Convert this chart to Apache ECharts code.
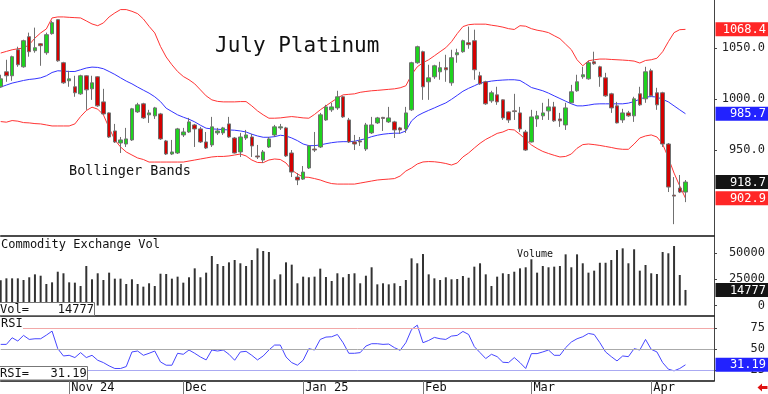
<!DOCTYPE html>
<html><head><meta charset="utf-8">
<script src="https://cdn.jsdelivr.net/npm/echarts@6/dist/echarts.min.js"></script>
<style>html,body{margin:0;padding:0;background:#fff;}#c{width:768px;height:394px;}</style>
</head><body><div id="c"></div>
<script>
const dates = [
'2024-10-16','2024-10-17','2024-10-18','2024-10-21','2024-10-22','2024-10-23','2024-10-24','2024-10-25','2024-10-28','2024-10-29','2024-10-30','2024-10-31',
'2024-11-01','2024-11-04','2024-11-05','2024-11-06','2024-11-07','2024-11-08','2024-11-11','2024-11-12','2024-11-13','2024-11-14','2024-11-15','2024-11-18','2024-11-19','2024-11-20','2024-11-21','2024-11-22','2024-11-25','2024-11-26','2024-11-27','2024-11-29',
'2024-12-02','2024-12-03','2024-12-04','2024-12-05','2024-12-06','2024-12-09','2024-12-10','2024-12-11','2024-12-12','2024-12-13','2024-12-16','2024-12-17','2024-12-18','2024-12-19','2024-12-20','2024-12-23','2024-12-24','2024-12-26','2024-12-27','2024-12-30','2024-12-31',
'2025-01-02','2025-01-03','2025-01-06','2025-01-07','2025-01-08','2025-01-10','2025-01-13','2025-01-14','2025-01-15','2025-01-16','2025-01-17','2025-01-20','2025-01-21','2025-01-22','2025-01-23','2025-01-24','2025-01-27','2025-01-28','2025-01-29','2025-01-30','2025-01-31',
'2025-02-03','2025-02-04','2025-02-05','2025-02-06','2025-02-07','2025-02-10','2025-02-11','2025-02-12','2025-02-13','2025-02-14','2025-02-18','2025-02-19','2025-02-20','2025-02-21','2025-02-24','2025-02-25','2025-02-26','2025-02-27','2025-02-28',
'2025-03-03','2025-03-04','2025-03-05','2025-03-06','2025-03-07','2025-03-10','2025-03-11','2025-03-12','2025-03-13','2025-03-14','2025-03-17','2025-03-18','2025-03-19','2025-03-20','2025-03-21','2025-03-24','2025-03-25','2025-03-26','2025-03-27','2025-03-28','2025-03-31',
'2025-04-01','2025-04-02','2025-04-03','2025-04-04','2025-04-07','2025-04-08','2025-04-09'];
const futureDates = ['2025-04-10','2025-04-11','2025-04-14','2025-04-15','2025-04-16'];

// [open, close, low, high]
const candles = [
[1012.1,1019.9,1011.1,1023.9],[1026.8,1022.9,1017.0,1038.6],[1022.9,1041.6,1018.0,1042.6],[1048.4,1033.7,1031.7,1051.4],[1031.7,1057.3,1030.8,1058.3],
[1061.2,1046.5,1041.6,1065.2],[1047.5,1050.4,1045.5,1070.1],[1054.3,1052.4,1032.7,1055.0],[1045.5,1063.2,1043.5,1065.2],[1064.2,1075.0,1063.2,1076.9],
[1077.9,1037.6,1036.6,1078.5],[1035.7,1016.0,1015.0,1036.6],[1018.0,1019.9,1012.1,1027.8],[1012.1,1006.2,1002.3,1022.9],[1005.2,1022.9,1004.2,1023.9],
[1022.9,1009.1,989.5,1023.5],[1010.1,1016.0,999.3,1022.9],[1021.9,993.4,992.4,1022.5],[997.3,985.5,984.6,1010.1],[986.5,962.9,961.9,987.0],
[968.8,958.0,957.0,975.7],[957.0,960.0,947.2,962.9],[956.0,961.0,953.1,971.8],[960.0,990.5,959.0,991.4],[987.5,994.4,986.5,996.4],
[995.4,981.6,980.6,996.4],[984.6,986.5,976.7,989.5],[983.6,991.4,980.6,992.4],[985.5,961.0,960.0,986.5],[959.0,946.2,945.2,960.0],
[946.2,948.2,945.2,960.0],[947.2,970.8,946.2,971.8],[964.9,967.8,962.9,971.8],[967.8,977.7,966.9,981.6],[974.7,970.8,953.1,975.7],
[970.8,958.0,957.0,972.8],[958.0,952.1,951.1,967.8],[955.1,972.8,953.1,982.6],[966.9,968.8,964.9,971.8],[966.9,971.8,964.9,972.8],
[975.7,962.9,962.0,982.6],[961.9,947.2,946.7,962.9],[948.2,962.9,943.3,966.9],[961.9,964.9,960.0,969.8],[962.9,954.1,943.3,965.9],
[944.3,943.3,941.3,955.1],[940.3,948.2,937.4,950.1],[953.1,961.0,952.1,962.9],[964.9,972.8,962.9,974.7],[971.8,972.8,969.8,975.7],
[971.8,944.3,943.3,972.8],[947.2,928.5,923.6,950.1],[923.6,920.7,915.7,927.5],[921.6,928.5,920.7,934.4],[932.5,954.1,931.5,955.1],
[951.1,950.1,948.2,967.8],[953.1,984.6,952.1,986.5],[979.6,992.4,978.7,994.4],[989.5,992.4,987.5,996.4],[991.4,1002.3,989.5,1008.2],
[1002.3,982.6,981.6,1003.2],[979.6,958.0,957.0,981.6],[958.0,956.0,950.1,964.9],[959.0,958.0,954.1,962.9],[951.1,974.7,949.2,976.7],
[966.9,974.7,965.9,982.6],[976.7,981.6,975.7,982.6],[982.1,981.1,968.8,982.6],[977.7,981.6,976.7,992.4],[977.7,969.8,961.9,978.7],
[971.8,969.8,965.9,972.8],[970.8,986.5,966.9,992.4],[989.5,1035.7,988.5,1036.6],[1035.7,1051.4,1034.7,1052.4],[1046.5,1012.1,999.3,1047.5],
[1017.0,1020.9,999.3,1033.7],[1021.9,1032.7,1019.9,1033.7],[1026.8,1030.8,1019.0,1036.6],[1030.8,1028.8,1017.0,1043.5],[1016.0,1040.6,1013.1,1048.4],
[1043.5,1045.5,1035.7,1049.4],[1046.5,1057.3,1045.5,1058.3],[1055.3,1053.4,1049.4,1071.1],[1057.3,1028.8,1019.0,1068.1],[1022.9,1015.0,1014.0,1026.8],
[1017.0,995.4,994.4,1018.0],[998.3,1006.2,996.4,1008.2],[1004.2,997.3,994.4,1012.1],[999.3,981.6,979.6,999.8],[987.5,979.6,976.7,988.0],
[988.5,987.8,979.6,1005.2],[986.5,970.8,967.8,992.4],[967.8,950.1,949.2,969.8],[958.0,982.6,957.5,989.5],[980.6,983.6,972.8,988.5],
[983.6,986.5,979.6,996.4],[988.5,992.4,979.6,1000.3],[992.4,978.7,977.7,997.3],[980.6,978.7,972.8,986.5],[974.7,991.4,969.8,996.4],
[996.4,1007.2,996.0,1014.0],[1008.2,1017.0,1007.2,1023.9],[1021.9,1023.9,1019.9,1031.7],[1019.9,1035.7,1019.0,1037.6],[1036.6,1034.7,1033.7,1046.5],
[1031.7,1021.9,1012.1,1032.7],[1020.9,1003.2,1002.3,1025.8],[1005.2,991.4,986.5,1006.2],[993.4,976.7,976.2,997.3],[979.6,986.5,976.7,990.5],
[986.5,983.6,982.6,988.5],[983.6,1000.3,977.7,1002.3],[1005.2,994.4,993.4,1012.1],[1000.3,1026.8,996.4,1031.7],[1027.8,1003.2,1002.3,1029.8],
[1006.2,994.4,989.5,1011.1],[1006.2,956.0,953.1,1007.2],[956.0,913.8,908.9,957.0],[905.9,904.9,877.4,923.6],[912.8,908.9,907.9,925.6],
[908.9,918.7,899.0,920.7]];

const bandUpper = [
1045.2,1046.8,1048.4,1049.4,1050.1,1053.4,1059.9,1064.9,1068.8,1079.6,
1080.6,1080.6,1080.2,1079.9,1079.6,1076.7,1073.7,1072.0,1074.7,1080.6,
1084.5,1087.8,1087.8,1086.1,1083.8,1078.6,1071.4,1064.9,1051.7,1041.3,
1033.7,1027.1,1022.2,1019.0,1015.0,1009.1,1003.2,999.3,997.8,997.3,
997.3,997.3,997.6,997.6,993.4,988.5,984.6,981.3,981.3,981.6,
982.3,982.9,982.3,981.6,981.3,985.0,989.5,993.4,997.3,1001.0,
1004.2,1004.7,1005.2,1006.7,1007.5,1008.2,1008.6,1009.1,1009.6,1010.1,
1011.1,1013.1,1023.9,1031.7,1035.7,1038.6,1042.5,1046.5,1050.4,1056.3,
1064.2,1071.1,1073.0,1073.5,1073.5,1073.5,1072.5,1071.7,1070.6,1069.1,
1068.3,1072.0,1071.5,1069.1,1067.6,1066.6,1065.2,1062.2,1059.3,1053.9,
1048.5,1038.6,1032.7,1037.6,1038.6,1039.3,1039.3,1038.9,1038.6,1038.3,
1037.9,1037.3,1035.4,1037.9,1038.6,1040.1,1046.5,1056.3,1065.2,1068.1,
1068.4];

const bandMiddle = [
1011.8,1013.8,1015.7,1017.0,1018.3,1019.3,1019.9,1020.9,1022.9,1026.1,
1027.8,1027.5,1027.1,1027.1,1028.8,1030.5,1031.4,1031.1,1029.8,1027.1,
1024.2,1020.9,1017.7,1015.0,1011.8,1008.8,1005.9,1002.3,997.6,991.1,
987.8,984.6,982.3,980.3,977.7,974.4,971.5,970.8,970.5,970.1,
969.8,969.5,968.8,967.8,965.6,963.9,962.6,962.6,963.2,964.6,
963.9,961.9,959.3,956.0,954.4,954.4,955.1,956.3,957.3,958.0,
958.3,958.3,958.7,960.0,961.3,963.2,964.6,965.6,966.2,966.6,
966.6,968.8,978.7,983.6,986.5,989.0,991.4,993.9,996.3,999.8,
1003.7,1007.7,1010.6,1013.1,1015.7,1016.7,1017.7,1018.3,1018.7,1019.0,
1019.0,1018.3,1015.0,1011.4,1009.8,1008.2,1005.9,1003.2,1000.6,998.0,
995.4,993.4,993.4,994.1,995.1,995.4,995.4,995.4,995.4,995.4,
996.1,997.6,1000.0,1002.0,1002.5,1002.0,999.8,997.3,993.4,989.5,
985.7];

const bandLower = [
978.0,977.4,979.0,978.4,977.0,976.7,976.0,975.7,974.7,973.7,
973.7,973.7,973.7,975.7,982.9,988.8,992.1,990.2,984.6,971.8,
960.0,953.1,948.2,945.2,942.3,940.8,938.3,938.3,938.3,938.3,
938.3,938.3,938.3,939.3,940.3,941.3,942.3,943.3,943.8,943.8,
944.3,945.2,946.2,944.3,940.3,937.9,937.7,940.3,941.3,940.8,
937.4,930.5,926.6,923.6,923.3,922.1,920.7,918.7,917.2,916.7,
916.7,916.7,916.7,917.7,918.7,919.7,920.7,921.2,921.6,922.1,
924.6,929.5,932.5,936.4,938.4,938.8,938.6,937.9,936.9,935.4,
937.4,943.3,947.2,952.1,956.7,960.5,963.4,966.4,967.8,970.3,
969.8,965.4,960.5,955.1,951.6,948.7,946.7,944.9,943.3,943.8,
946.2,951.8,955.4,956.0,955.4,954.6,953.6,952.6,951.4,950.8,
950.8,956.0,961.9,963.9,964.9,962.9,956.0,942.3,927.5,914.8,
902.9];

const volumes = [
24000,25800,25800,25800,24200,26800,29600,28300,20400,22000,
32100,30600,22000,21700,18500,37500,24900,30600,24200,31200,
25500,25500,20400,24900,20400,17900,21100,18500,30200,29900,
25500,27400,21700,26800,35300,26800,31200,47000,39400,37500,
41000,43200,40100,37500,43200,54300,51800,50800,24900,29600,
41000,38800,21100,27400,26800,27400,35000,27100,23300,30600,
26800,29900,30600,21100,28300,36300,20100,21100,20100,21100,
18500,24200,44800,40100,48900,29600,25800,24200,26800,24900,
25200,28000,26400,36900,40100,29600,18500,27400,30600,29900,
32100,35300,36300,43900,31200,37500,36300,36900,37500,48600,
36300,48600,40100,31200,33100,40600,40600,43200,52700,54300,
40100,53400,33100,38500,30600,29900,50800,49600,56500,29000,
14777];

const rsi = [
55.5,55.5,63.4,59.5,66.2,61.4,62.2,62.2,66.5,71.3,
50.4,41.7,42.5,39.8,45.7,39.8,42.5,36.6,33.8,29.9,
26.8,26.8,29.1,46.5,47.6,42.5,44.9,47.6,34.6,30.7,
30.7,44.9,43.7,48.8,44.9,40.5,37.0,48.8,47.6,48.8,
43.7,36.6,46.5,47.2,42.5,37.0,41.7,48.8,54.7,54.7,
40.5,33.8,30.7,36.6,50.4,48.8,61.4,64.2,64.6,67.3,
57.5,44.9,44.9,45.7,53.5,56.3,56.3,55.5,55.9,51.6,
48.4,57.5,73.2,78.4,57.5,60.2,63.8,62.2,61.4,65.4,
66.2,70.9,67.3,52.8,45.7,38.6,43.7,40.9,34.2,33.8,
39.8,33.8,26.8,44.5,44.5,46.5,48.8,42.5,42.5,51.6,
58.3,62.2,64.6,68.5,67.3,57.5,46.5,40.9,35.8,41.7,
40.9,50.4,48.8,61.4,49.6,46.5,33.8,26.0,24.0,26.8,
31.19];

const monthTickDates = ['2024-11-01','2024-12-02','2025-01-02','2025-02-03','2025-03-03','2025-04-01'];
const monthTickLabels = ['Nov 24','Dec','Jan 25','Feb','Mar','Apr'];
const priceTicks = [950, 1000, 1050];
const volumeTicks = [0, 25000, 50000];
const rsiTicks = [25, 50, 75];
const rsiLevels = [75, 50, 25];

const cats = dates.concat(futureDates);
const FONT = "'DejaVu Sans Mono', monospace";
const isMonth = (i) => monthTickDates.indexOf(cats[i]) >= 0;
const GL = 0.7, GR = 53;

const chart = echarts.init(document.getElementById('c'), null, {renderer: 'canvas'});

function xAx(g) {
  return {
    type: 'category', gridIndex: g, data: cats, boundaryGap: false,
    axisLine: {show: true, onZero: false, lineStyle: {color: '#111', width: 1.5}},
    axisTick: {show: g === 2, interval: (i) => isMonth(i), length: 13, lineStyle: {color: '#777'}},
    axisLabel: {show: g === 2, interval: (i) => isMonth(i),
      formatter: (v) => monthTickLabels[monthTickDates.indexOf(v)] || '',
      align: 'left', margin: 1, padding: [0, 0, 0, 2], color: '#111', fontFamily: FONT, fontSize: 12},
    splitLine: {show: false}
  };
}
function yAx(g, min, max, ticks, fmt) {
  return {
    type: 'value', gridIndex: g, position: 'right', min: min, max: max, scale: true,
    axisLine: {show: true, lineStyle: {color: '#444', width: 1}},
    axisTick: {show: true, customValues: ticks, length: 3, lineStyle: {color: '#444'}},
    axisLabel: {show: true, customValues: ticks, formatter: fmt, align: 'right', margin: 51,
      color: '#222', fontFamily: FONT, fontSize: 12},
    splitLine: {show: false}
  };
}

chart.setOption({
  animation: false,
  backgroundColor: '#fff',
  grid: [
    {left: GL, right: GR, top: 0, height: 236},
    {left: GL, right: GR, top: 236, height: 80},
    {left: GL, right: GR, top: 316, height: 65}
  ],
  xAxis: [xAx(0), xAx(1), xAx(2)],
  yAxis: [
    yAx(0, 865.8, 1097.2, priceTicks, (v) => v.toFixed(1)),
    yAx(1, -9975, 66025, volumeTicks, (v) => String(v)),
    yAx(2, 11.9, 89.3, rsiTicks, (v) => String(v))
  ],
  series: [
    {type: 'line', xAxisIndex: 0, yAxisIndex: 0, data: bandUpper, showSymbol: false, z: 1,
      lineStyle: {color: '#ff3434', width: 1}, itemStyle: {color: '#ff3434'}},
    {type: 'line', xAxisIndex: 0, yAxisIndex: 0, data: bandMiddle, showSymbol: false, z: 1,
      lineStyle: {color: '#3434ff', width: 1}, itemStyle: {color: '#3434ff'}},
    {type: 'line', xAxisIndex: 0, yAxisIndex: 0, data: bandLower, showSymbol: false, z: 1,
      lineStyle: {color: '#ff3434', width: 1}, itemStyle: {color: '#ff3434'}},
    {type: 'candlestick', xAxisIndex: 0, yAxisIndex: 0, data: candles, barWidth: 4, z: 3,
      itemStyle: {color: '#1ed21e', color0: '#d40000', borderColor: '#707070', borderColor0: '#707070',
        borderColorDoji: '#707070', borderWidth: 1}},
    {type: 'bar', xAxisIndex: 1, yAxisIndex: 1, data: volumes, barWidth: 2,
      itemStyle: {color: '#333'}},
    {type: 'line', xAxisIndex: 2, yAxisIndex: 2, data: rsi, showSymbol: false, z: 3,
      lineStyle: {color: '#4646ff', width: 1}, itemStyle: {color: '#4646ff'},
      markLine: {silent: true, symbol: 'none', label: {show: false},
        data: [
          {yAxis: rsiLevels[0], lineStyle: {color: '#f2a8a8', width: 1, type: 'solid'}},
          {yAxis: rsiLevels[1], lineStyle: {color: '#aaaaaa', width: 1, type: 'solid'}},
          {yAxis: rsiLevels[2], lineStyle: {color: '#aaaaf2', width: 1, type: 'solid'}}
        ]}}
  ]
});

const lastClose = candles[candles.length - 1][1];
const lastVol = volumes[volumes.length - 1];
const lastRsi = rsi[rsi.length - 1];
const last = (a) => a[a.length - 1];
const valueBoxes = [
  [last(bandUpper), 0, '#ff2626', last(bandUpper).toFixed(1)],
  [last(bandMiddle), 0, '#2222ff', last(bandMiddle).toFixed(1)],
  [lastClose, 0, '#141414', lastClose.toFixed(1)],
  [last(bandLower), 0, '#ff2626', last(bandLower).toFixed(1)],
  [lastVol, 1, '#141414', String(lastVol)],
  [lastRsi, 2, '#2222ff', lastRsi.toFixed(2)]
];
const g = [];
valueBoxes.forEach(([v, ax, bg, txt]) => {
  const py = chart.convertToPixel({yAxisIndex: ax}, v);
  g.push({type: 'rect', z: 100, shape: {x: 715.5, y: py - 7, width: 53, height: 14}, style: {fill: bg}});
  g.push({type: 'text', z: 101, style: {text: txt, x: 766, y: py + 0.5, fill: '#fff', font: '12px ' + FONT,
    textAlign: 'right', textVerticalAlign: 'middle'}});
});
const txt = (s, x, y, size, extra) => Object.assign({type: 'text', z: 101,
  style: {text: s, x: x, y: y, fill: '#111', font: size + 'px ' + FONT, textAlign: 'left', textVerticalAlign: 'middle'}}, extra || {});
g.push(txt('July Platinum', 215, 47, 21));
g.push(txt('Bollinger Bands', 69, 171.5, 13.5));
g.push(txt('Commodity Exchange Vol', 1, 244.5, 12));
g.push(txt('Volume', 517, 254, 10));
g.push({type: 'rect', z: 100, shape: {x: 0, y: 317, width: 23, height: 13}, style: {fill: '#fff'}});
g.push(txt('RSI', 1, 324, 12));
g.push({type: 'rect', z: 100, shape: {x: -2, y: 302.5, width: 96.5, height: 13}, style: {fill: '#fff', stroke: '#777', lineWidth: 1}});
g.push(txt('Vol=    ' + lastVol, 0, 309.5, 12));
g.push({type: 'rect', z: 100, shape: {x: -2, y: 366.5, width: 89.5, height: 13.5}, style: {fill: '#fff', stroke: '#777', lineWidth: 1}});
g.push(txt('RSI=   ' + lastRsi.toFixed(2), 0, 373.5, 12));
g.push({type: 'polygon', z: 100, shape: {points: [[757.5, 387.5], [762, 383.5], [762, 386], [767.5, 386], [767.5, 389], [762, 389], [762, 391.5]]},
  style: {fill: '#e01010'}});
chart.setOption({graphic: g});
</script>
</body></html>
